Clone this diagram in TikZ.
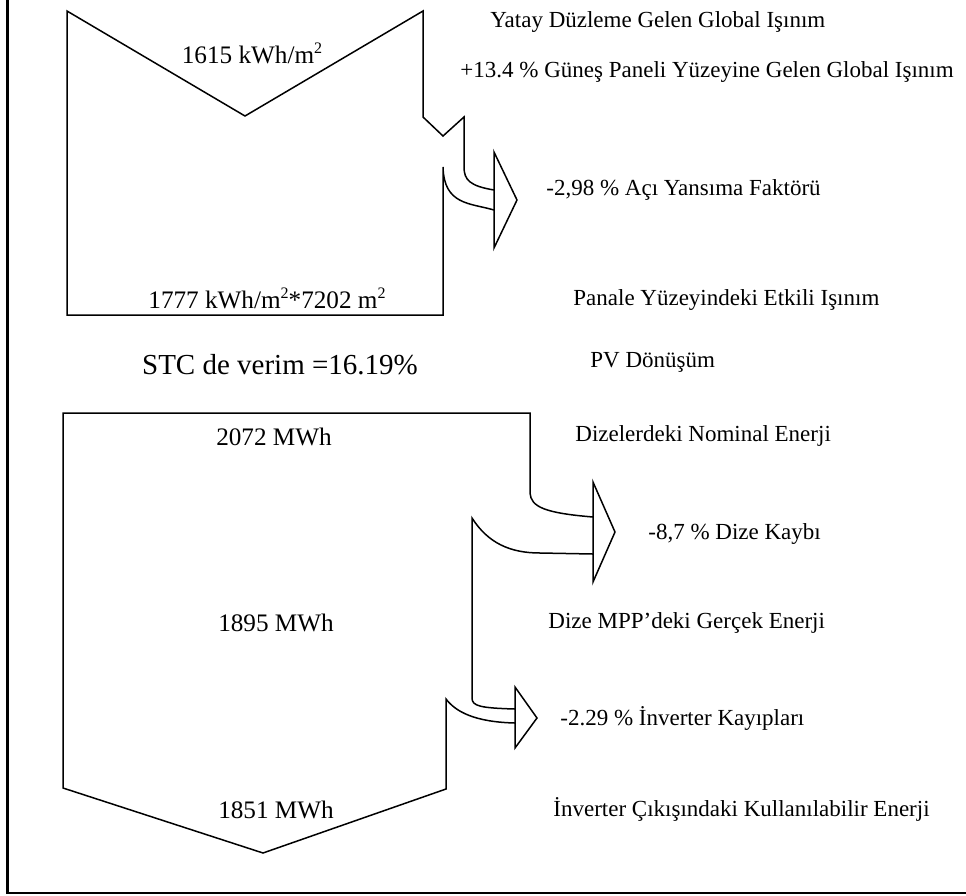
\documentclass[tikz,border=0pt]{standalone}
\usepackage{fontspec}
\setmainfont{Liberation Serif}
\usetikzlibrary{arrows.meta, positioning, calc}
\newcommand{\sqsup}{\raisebox{0.85ex}{\fontsize{8}{8}\selectfont 2}}
\tikzset{
  >=Latex,
  x=0.5pt, y=-0.5pt,
  flow/.style={draw=black, line width=0.75pt, line join=miter},
  lossarrow/.style={draw=black, fill=white, line width=0.75pt, line join=miter},
  frameline/.style={draw=black, line width=1.1pt},
  val/.style={font=\fontsize{12.6}{15}\selectfont, inner sep=0pt},
  stcval/.style={font=\fontsize{14.5}{17}\selectfont, inner sep=0pt},
  lbl/.style={font=\fontsize{11.5}{14}\selectfont, inner sep=0pt, anchor=west}
}

\begin{document}
\begin{tikzpicture}
  \useasboundingbox (0,0) rectangle (966,896);
  \draw[frameline] (7.5,0) -- (7.5,893) -- (966,893);

  % panel irradiation
  \draw[flow] (494,190) .. controls (470,186) and (464,180) .. (464,167) -- (464,117)
    -- (443,136) -- (423,117) -- (423,11) -- (245,116) -- (67,11) -- (67,315) -- (443,315)
    -- (443,167) .. controls (444,205) and (470,203) .. (494,210);
  \draw[lossarrow] (494,152) -- (517,200) -- (494,248) -- cycle;

  % energy to the grid
  \draw[flow] (593,517) .. controls (545,513) and (531,507) .. (530,493) -- (530,413)
    -- (63,413) -- (63,788) -- (263,853) -- (446,789) -- (446,699)
    .. controls (456,712) and (475,722) .. (515,723);
  \draw[flow] (593,554) -- (540,553) .. controls (510,553) and (488,543) .. (472,518)
    -- (472,698) .. controls (472,706) and (480,708) .. (515,709);
  \draw[lossarrow] (593,482) -- (615,532) -- (593,582) -- cycle;
  \draw[lossarrow] (515,687) -- (537,718) -- (515,748) -- cycle;

  \node[val] (irrh) at (252,53) {1615 kWh/m\sqsup};
  \node[val] (irrp) at (267,298) {1777 kWh/m\sqsup*7202 m\sqsup};
  \node[stcval] (stc) at (280,365) {STC de verim =16.19\%};
  \node[val] (enom) at (274,437) {2072 MWh};
  \node[val] (empp) at (276,623) {1895 MWh};
  \node[val] (eout) at (276,810) {1851 MWh};

  \foreach \n/\x/\y/\t in {
    lhor/490/22/{Yatay Düzleme Gelen Global Işınım},
    lgain/460/72/{+13.4 \% Güneş Paneli Yüzeyine Gelen Global Işınım},
    liam/546/190/{-2,98 \% Açı Yansıma Faktörü},
    leff/573/300/{Panale Yüzeyindeki Etkili Işınım},
    lpv/590/362/{PV Dönüşüm},
    lnom/575/436/{Dizelerdeki Nominal Enerji},
    larr/648/534/{-8,7 \% Dize Kaybı},
    lmpp/548/623/{Dize MPP’deki Gerçek Enerji},
    linv/560/718/{-2.29 \% İnverter Kayıpları},
    lout/553/809/{İnverter Çıkışındaki Kullanılabilir Enerji}} {
    \node[lbl] (\n) at (\x,\y) {\t};
  }
\end{tikzpicture}
\end{document}
